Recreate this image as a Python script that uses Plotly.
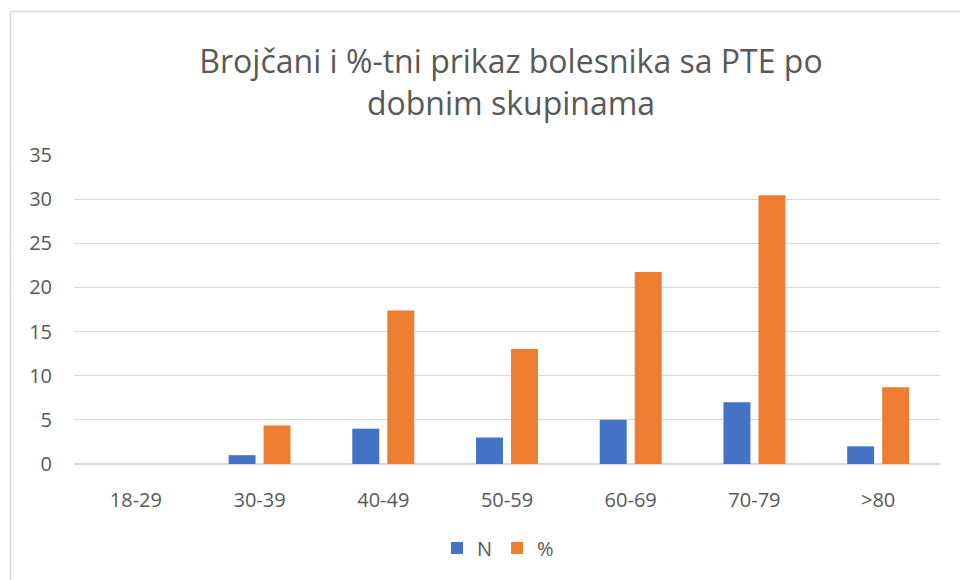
import plotly.graph_objects as go

categories = ["18-29", "30-39", "40-49", "50-59", "60-69", "70-79", ">80"]
n_values = [0, 1, 4, 3, 5, 7, 2]
pct_values = [0, 4.35, 17.39, 13.04, 21.74, 30.43, 8.70]
y_ticks = [0, 5, 10, 15, 20, 25, 30, 35]

W, H = 960, 580
L, R, T, B = 74, 20, 155, 116
pw, ph = W - L - R, H - T - B

def px_x(x):
    return (x - L) / pw

def px_y(y):
    return (H - B - y) / ph

FONT = "Open Sans, Lato, sans-serif"
GRAY = "#595959"

fig = go.Figure()
fig.add_bar(name="N", x=categories, y=n_values, marker=dict(color="#4472C4", line=dict(width=0)))
fig.add_bar(name="%", x=categories, y=pct_values, marker=dict(color="#ED7D31", line=dict(width=0)))

fig.update_layout(
    width=W, height=H,
    margin=dict(l=L, r=R, t=T, b=B),
    paper_bgcolor="white", plot_bgcolor="white",
    font=dict(family=FONT, color=GRAY, size=20),
    title=dict(text="Brojčani i %-tni prikaz bolesnika sa PTE po<br>dobnim skupinama",
               x=511 / W, xanchor="center", y=1 - 73 / H, yanchor="middle",
               font=dict(size=32, color=GRAY, family=FONT)),
    barmode="group", bargap=0.434, bargroupgap=0.23,
    showlegend=True,
    legend=dict(orientation="h", x=px_x(498), xanchor="center", y=px_y(548), yanchor="middle",
                font=dict(size=20, color=GRAY, family=FONT), traceorder="normal"),
    xaxis=dict(showgrid=False, showline=False, ticks="outside", ticklen=18, tickcolor="rgba(0,0,0,0)",
               tickfont=dict(size=20, color=GRAY, family=FONT)),
    yaxis=dict(range=[0, 35], tickvals=y_ticks, showgrid=True, gridcolor="#D9D9D9", gridwidth=1,
               zeroline=True, zerolinecolor="#D9D9D9", zerolinewidth=1.5,
               ticks="outside", ticklen=17, tickcolor="rgba(0,0,0,0)",
               tickfont=dict(size=20, color=GRAY, family=FONT)),
    shapes=[
        dict(type="line", xref="paper", yref="paper", x0=px_x(10.5), x1=px_x(10.5), y0=px_y(585), y1=px_y(11.5),
             line=dict(color="#D9D9D9", width=1.5)),
        dict(type="line", xref="paper", yref="paper", x0=px_x(10.5), x1=px_x(960), y0=px_y(11.5), y1=px_y(11.5),
             line=dict(color="#D9D9D9", width=1.5)),
    ],
)

fig.write_html("out.html", config={"displayModeBar": False},
               post_script="document.body.style.margin='0';document.body.style.overflow='hidden';")
